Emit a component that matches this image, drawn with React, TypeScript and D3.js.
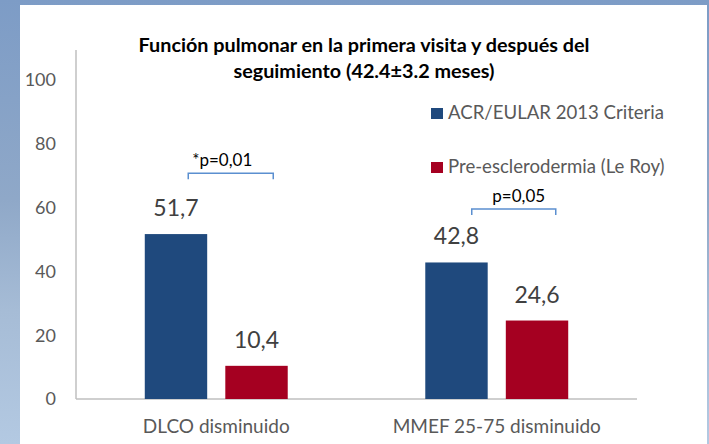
import React, { useEffect, useRef } from 'react'
import * as d3 from 'd3'

const categories = ['DLCO disminuido', 'MMEF 25-75 disminuido']
const seriesNames = ['ACR/EULAR 2013 Criteria', 'Pre-esclerodermia (Le Roy)']
const acrValues = [51.7, 42.8]
const leroyValues = [10.4, 24.6]
const seriesColors = ['#1f497d', '#a50021']
const yTicks = [0, 20, 40, 60, 80, 100]
const titleLines = [
  'Función pulmonar en la primera visita y después del',
  'seguimiento (42.4±3.2 meses)',
]
// p-value brackets: category, bracket level (axis units), label
const pLabels = ['*p=0,01', 'p=0,05']
const pLevels = [70.8, 59.6]

const width = 709
const height = 444
const margin = { top: 50, right: 72, bottom: 45, left: 76 }

const App: React.FC = () => {
  const svgRef = useRef<SVGSVGElement | null>(null)

  useEffect(() => {
    document.body.style.margin = '0'
    if (!svgRef.current) return
    const svg = d3.select(svgRef.current)
    svg.selectAll('*').remove()

    const font = 'Lato, "Open Sans", sans-serif'

    // slide background
    const defs = svg.append('defs')
    const grad = defs
      .append('linearGradient')
      .attr('id', 'bg')
      .attr('x1', 0)
      .attr('y1', 0)
      .attr('x2', 0)
      .attr('y2', 1)
    grad.append('stop').attr('offset', '0%').attr('stop-color', '#7d9cc6')
    grad.append('stop').attr('offset', '45%').attr('stop-color', '#8fa8c8')
    grad.append('stop').attr('offset', '70%').attr('stop-color', '#a6bcd6')
    grad.append('stop').attr('offset', '100%').attr('stop-color', '#b3c9e2')
    svg.append('rect').attr('width', width).attr('height', height).attr('fill', 'url(#bg)')
    svg
      .append('rect')
      .attr('x', 20)
      .attr('y', 5)
      .attr('width', 687)
      .attr('height', height)
      .attr('fill', '#ffffff')

    const baseline = height - margin.bottom
    const y = d3.scaleLinear().domain([0, 100]).range([baseline, 80])

    const x0 = d3
      .scaleBand()
      .domain(categories)
      .range([margin.left, width - margin.right])
      .padding(0)

    const x1 = d3
      .scaleBand()
      .domain(seriesNames)
      .range([0, x0.bandwidth()])
      .paddingInner(0.225)
      .paddingOuter(0.854)

    // axes
    svg
      .append('line')
      .attr('x1', margin.left)
      .attr('x2', margin.left)
      .attr('y1', baseline)
      .attr('y2', margin.top)
      .attr('stroke', '#bfbfbf')
      .attr('stroke-width', 1.5)
    svg
      .append('line')
      .attr('x1', margin.left)
      .attr('x2', width - margin.right)
      .attr('y1', baseline)
      .attr('y2', baseline)
      .attr('stroke', '#bfbfbf')
      .attr('stroke-width', 1.5)

    svg
      .append('g')
      .selectAll('text')
      .data(yTicks)
      .join('text')
      .attr('x', 56)
      .attr('y', (d) => y(d))
      .attr('dy', '0.35em')
      .attr('text-anchor', 'end')
      .attr('font-family', font)
      .attr('font-size', 18)
      .attr('fill', '#595959')
      .text((d) => d.toString())

    // bars
    const rows = categories.flatMap((c, i) => [
      { cat: c, s: seriesNames[0], v: acrValues[i], color: seriesColors[0] },
      { cat: c, s: seriesNames[1], v: leroyValues[i], color: seriesColors[1] },
    ])

    const bars = svg.append('g')
    bars
      .selectAll('rect')
      .data(rows)
      .join('rect')
      .attr('x', (d) => x0(d.cat)! + x1(d.s)!)
      .attr('y', (d) => y(d.v))
      .attr('width', x1.bandwidth())
      .attr('height', (d) => baseline - y(d.v))
      .attr('fill', (d) => d.color)

    bars
      .selectAll('text')
      .data(rows)
      .join('text')
      .attr('x', (d) => x0(d.cat)! + x1(d.s)! + x1.bandwidth() / 2)
      .attr('y', (d) => y(d.v) - 18)
      .attr('text-anchor', 'middle')
      .attr('font-family', font)
      .attr('font-size', 23)
      .attr('fill', '#404040')
      .text((d) => d.v.toFixed(1).replace('.', ','))

    // category labels
    svg
      .append('g')
      .selectAll('text')
      .data(categories)
      .join('text')
      .attr('x', (d) => x0(d)! + x0.bandwidth() / 2)
      .attr('y', baseline + 34)
      .attr('text-anchor', 'middle')
      .attr('font-family', font)
      .attr('font-size', 19)
      .attr('fill', '#595959')
      .text((d) => d)

    // p-value brackets
    const bracketOffsets = [
      [-28, 57],
      [-25, 59],
    ]
    const labelOffsets = [6, 22]
    categories.forEach((c, i) => {
      const cx = x0(c)! + x0.bandwidth() / 2
      const by = y(pLevels[i])
      const [a, b] = bracketOffsets[i]
      svg
        .append('path')
        .attr('d', `M${cx + a},${by + 6}V${by}H${cx + b}V${by + 6}`)
        .attr('fill', 'none')
        .attr('stroke', '#5b8fd0')
        .attr('stroke-width', 1.5)
      svg
        .append('text')
        .attr('x', cx + labelOffsets[i])
        .attr('y', by - 7)
        .attr('text-anchor', 'middle')
        .attr('font-family', font)
        .attr('font-size', 17)
        .attr('fill', '#000000')
        .text(pLabels[i])
    })

    // legend
    const legend = svg
      .append('g')
      .selectAll('g')
      .data(seriesNames)
      .join('g')
      .attr('transform', (_, i) => `translate(431, ${119 + i * 54})`)
    legend
      .append('rect')
      .attr('y', -11)
      .attr('width', 12)
      .attr('height', 11)
      .attr('fill', (_, i) => seriesColors[i])
    legend
      .append('text')
      .attr('x', 17)
      .attr('font-family', font)
      .attr('font-size', 18.6)
      .attr('fill', '#595959')
      .text((d) => d)

    // title
    svg
      .append('g')
      .selectAll('text')
      .data(titleLines)
      .join('text')
      .attr('x', 364)
      .attr('y', (_, i) => 52 + i * 26)
      .attr('text-anchor', 'middle')
      .attr('font-family', font)
      .attr('font-weight', 'bold')
      .attr('font-size', 19.8)
      .attr('fill', '#000000')
      .text((d) => d)
  }, [])

  return <svg ref={svgRef} width={width} height={height} style={{ display: 'block' }}></svg>
}

export default App
